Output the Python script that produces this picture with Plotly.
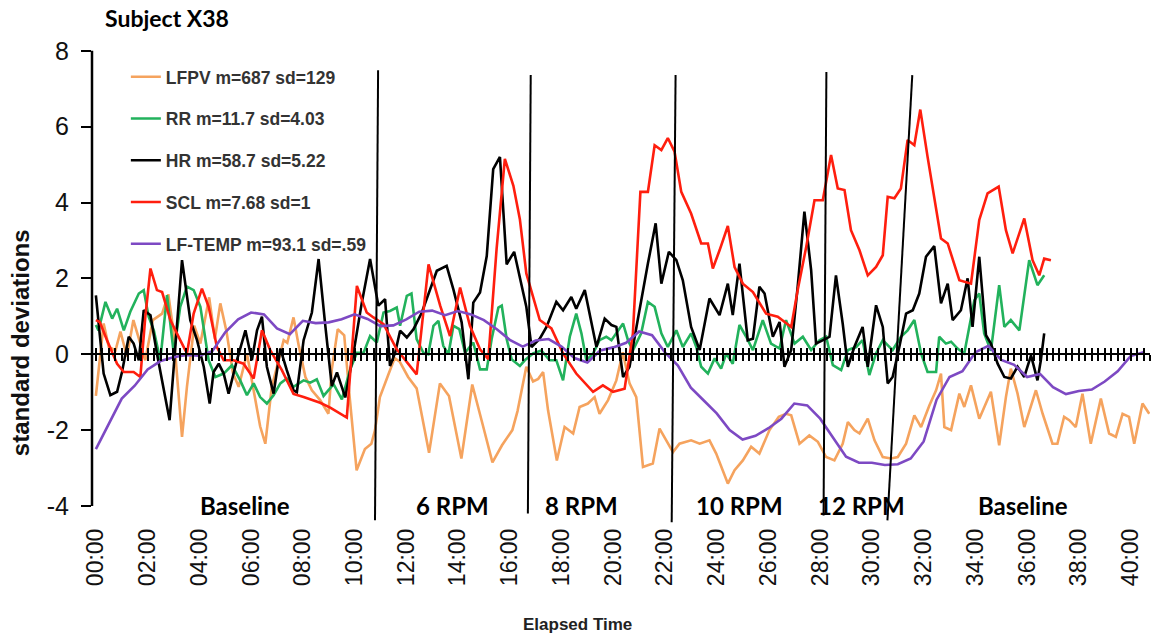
import plotly.graph_objects as go

# ---- data (minutes, standard deviations) ----
lfpv_t = [0.0, 0.3, 0.5, 0.76, 0.95, 1.2, 1.45, 1.91, 2.2, 2.56, 2.8, 3.0, 3.33, 3.52, 3.8, 4.04, 4.38, 4.6,
          4.81, 5.05, 5.3, 5.52, 5.84, 6.1, 6.35, 6.55, 6.8, 7.0, 7.26, 7.4, 7.64, 7.85, 8.1, 8.35, 8.67, 8.99,
          9.12, 9.35, 9.6, 9.82, 10.08, 10.4, 10.65, 10.79, 10.98, 11.3, 11.55, 11.75, 12.07, 12.4, 12.88, 13.3,
          13.65, 14.13, 14.55, 14.97, 15.33, 15.7, 16.1, 16.3, 16.64, 16.9, 17.1, 17.29, 17.48, 17.82, 18.12,
          18.45, 18.7, 19.02, 19.28, 19.47, 19.8, 20.12, 20.37, 20.63, 20.89, 21.15, 21.53, 21.79, 22.18, 22.31,
          22.56, 23.01, 23.34, 23.72, 23.98, 24.43, 24.69, 25.01, 25.33, 25.65, 26.04, 26.4, 26.68, 26.88, 27.2,
          27.58, 27.91, 28.23, 28.55, 28.87, 29.07, 29.32, 29.52, 29.84, 30.1, 30.42, 30.74, 31.0, 31.32, 31.64,
          31.9, 32.22, 32.48, 32.67, 32.8, 33.06, 33.38, 33.57, 33.83, 34.15, 34.6, 34.92, 35.18, 35.37, 35.63,
          35.89, 36.34, 36.6, 36.98, 37.17, 37.43, 37.63, 37.88, 38.14, 38.46, 38.85, 39.17, 39.43, 39.69, 39.94,
          40.14, 40.46, 40.72]
lfpv_v = [-1.1, 0.81, 0.19, 0.1, 0.6, -0.06, 0.9, -0.16, 0.9, 1.07, 1.58, 0.6, -2.18, -0.86, 0.75, 0.28, 1.5, 0.4,
          1.34, 0.6, -0.5, -0.86, 0.02, -1.0, -1.9, -2.36, -0.86, -0.33, 0.37, 0.3, 0.97, 0.2, -0.6, -0.95, -1.21,
          -1.57, -0.4, 0.66, 0.5, -1.2, -3.06, -2.5, -2.36, -2.0, -1.13, -0.55, -0.1, -0.2, -0.6, -0.9, -2.6, -0.77,
          -1.1, -2.75, -0.8, -1.9, -2.85, -2.4, -2.0, -1.5, -0.33, -0.72, -0.65, -0.47, -1.48, -2.8, -1.92,
          -2.09, -1.39, -1.3, -1.13, -1.57, -1.21, -0.69, 0.05, -0.77, -1.13, -2.97, -2.88, -1.96, -2.44, -2.58,
          -2.36, -2.27, -2.36, -2.27, -2.62, -3.41, -3.06, -2.8, -2.44, -2.62, -2.0, -1.65, -1.57, -1.61, -2.36,
          -2.14, -2.31, -2.71, -2.8, -2.36, -1.79, -2.0, -2.09, -1.7, -2.27, -2.71, -2.75, -2.71, -2.36, -1.61,
          -1.92, -1.35, -0.95, -0.51, -1.92, -2.0, -1.04, -1.39, -0.82, -1.7, -0.99, -2.4, -1.13, -0.38, -1.04,
          -1.92, -0.95, -1.57, -2.36, -2.36, -1.65, -1.74, -1.92, -1.04, -2.36, -1.17, -2.09, -2.18, -1.57, -1.65,
          -2.36, -1.3, -1.57]

rr_t = [0.0, 0.1, 0.37, 0.63, 0.82, 1.08, 1.33, 1.66, 1.85, 2.04, 2.24, 2.49, 2.75, 3.01, 3.26, 3.52, 3.78, 4.04,
        4.36, 4.62, 4.94, 5.26, 5.58, 5.84, 6.1, 6.35, 6.61, 6.87, 7.13, 7.38, 7.64, 8.03, 8.29, 8.54, 8.8, 9.19,
        9.51, 9.83, 10.09, 10.35, 10.6, 10.86, 11.12, 11.37, 11.63, 11.76, 12.02, 12.2, 12.4, 12.66, 12.85, 13.05,
        13.24, 13.43, 13.63, 13.82, 14.05, 14.27, 14.59, 14.85, 15.11, 15.3, 15.56, 15.69, 15.88, 16.07, 16.39,
        16.58, 16.9, 17.22, 17.54, 17.8, 18.06, 18.32, 18.57, 18.77, 18.96, 19.22, 19.47, 19.73, 19.93, 20.12,
        20.38, 20.57, 20.76, 21.08, 21.34, 21.6, 21.86, 22.11, 22.44, 22.69, 23.01, 23.21, 23.4, 23.66, 23.92,
        24.17, 24.37, 24.62, 24.88, 25.14, 25.4, 25.78, 26.1, 26.43, 26.68, 27.01, 27.33, 27.65, 27.97, 28.23,
        28.49, 28.81, 29.07, 29.39, 29.64, 29.9, 30.16, 30.42, 30.8, 31.12, 31.38, 31.64, 31.9, 32.15, 32.48,
        32.6, 32.86, 33.06, 33.31, 33.57, 33.76, 33.96, 34.15, 34.34, 34.6, 34.92, 35.12, 35.37, 35.7, 36.08,
        36.4, 36.66]
rr_v = [0.77, 0.63, 1.38, 0.94, 1.2, 0.63, 1.12, 1.6, 1.69, 0.99, 0.63, -0.16, 1.56, 0.02, 1.25, 1.78, 1.69, 1.25,
        -0.16, -0.6, -0.51, -0.29, -0.69, -1.08, -0.77, -1.13, -1.3, -1.08, -0.77, -0.64, -0.86, -0.69, -0.75,
        -0.66, -1.1, -0.79, -1.19, -0.4, 0.04, 0.04, 0.48, 0.31, 1.1, 1.14, 1.23, 0.75, 1.54, 1.6, 0.4, 0.04, 0.0,
        0.75, 0.88, 0.22, 0.0, 0.75, 0.66, 0.04, 0.31, -0.4, -0.4, 0.4, 1.23, 1.28, 0.4, -0.13, -0.31, -0.16,
        0.02, 0.1, -0.16, -0.16, -0.69, 0.46, 1.07, 0.55, -0.16, 0.02, 0.37, 0.46, 0.37, 0.55, 0.81, 0.37, 0.1,
        0.55, 1.38, 1.25, 0.55, 0.19, 0.63, 0.19, 0.55, 0.19, -0.33, -0.51, -0.11, -0.38, 0.02, -0.25, 0.77,
        0.46, 0.11, 0.9, 0.28, 0.15, 0.9, 0.28, 0.46, 0.11, 0.37, 0.46, -0.29, -0.42, 0.11, 0.19, 0.37, -0.55,
        0.02, 0.37, 0.11, 0.46, 0.63, 0.9, 0.02, -0.47, -0.47, 0.46, 0.28, 0.33, 0.15, 0.02, 0.72, 1.42, 1.6,
        0.55, 0.09, 1.82, 0.72, 0.9, 0.63, 2.48, 1.82, 2.08]

hr_t = [0.0, 0.3, 0.56, 0.82, 1.01, 1.27, 1.46, 1.66, 1.85, 2.11, 2.36, 2.56, 2.85, 3.07, 3.33, 3.65, 3.91, 4.17,
        4.4, 4.55, 4.75, 4.94, 5.13, 5.45, 5.78, 6.03, 6.23, 6.42, 6.61, 6.87, 7.13, 7.38, 7.64, 7.77, 8.03, 8.35,
        8.61, 8.87, 9.12, 9.32, 9.64, 9.96, 10.28, 10.6, 10.92, 11.18, 11.37, 11.57, 11.76, 12.02, 12.28, 12.6,
        12.92, 13.18, 13.56, 13.82, 14.14, 14.4, 14.59, 14.85, 15.11, 15.36, 15.62, 15.88, 16.17, 16.64, 16.84,
        17.16, 17.42, 17.8, 18.06, 18.38, 18.57, 18.9, 19.35, 19.67, 19.93, 20.12, 20.38, 20.63, 20.83, 21.08,
        21.34, 21.64, 21.86, 22.15, 22.44, 22.69, 23.01, 23.34, 23.72, 24.11, 24.43, 24.62, 24.88, 25.2, 25.4,
        25.65, 25.85, 26.17, 26.43, 26.62, 26.88, 27.13, 27.39, 27.65, 27.84, 28.23, 28.36, 28.61, 28.87, 29.07,
        29.32, 29.64, 29.84, 30.16, 30.42, 30.61, 30.8, 31.06, 31.32, 31.58, 31.83, 32.09, 32.41, 32.67, 32.93,
        33.12, 33.44, 33.7, 33.89, 34.15, 34.41, 34.6, 34.86, 35.12, 35.37, 35.63, 35.89, 36.15, 36.4, 36.53,
        36.66]
hr_v = [1.55, -0.51, -1.08, -0.99, -0.47, 0.46, 0.28, -0.16, 1.16, 1.03, 0.02, -0.69, -1.74, 0.19, 2.48, 0.9,
        0.37, -0.33, -1.3, -0.47, -0.25, -0.51, -1.04, -0.16, 0.63, -0.16, 0.63, 0.99, -0.33, -1.04, 0.15, -0.42,
        -0.95, -1.0, 0.37, 1.1, 2.51, 0.75, -0.84, -0.48, -1.14, 0.04, 1.36, 2.51, 1.28, 1.45, -0.31, 0.04, 0.62,
        0.44, 0.66, 1.1, 1.71, 2.2, 2.33, 1.71, 0.84, -0.66, 1.36, 1.63, 2.59, 4.88, 5.2, 2.37, 2.7, 1.25, 0.19,
        0.41, 0.72, 1.38, 1.16, 1.51, 1.2, 1.69, 0.19, 0.94, 0.77, 0.72, -0.6, -0.33, 0.46, 1.42, 2.39, 3.45,
        1.86, 2.7, 2.48, 1.95, 0.72, 0.11, 1.47, 1.03, 1.86, 1.03, 2.39, 0.37, 0.41, 1.78, 1.6, 0.46, 0.85,
        -0.33, 0.11, 1.78, 3.76, 2.22, 0.28, 0.41, 0.46, 2.08, 0.81, -0.33, 0.19, 0.72, -0.33, 1.29, 0.72,
        -0.77, -0.6, 0.19, 1.07, 1.16, 1.6, 2.57, 2.85, 1.34, 1.86, 0.9, 1.16, 2.0, 0.72, 2.57, 0.5, 0.28,
        -0.25, -0.6, -0.64, -0.33, -0.6, -0.03, -0.69, -0.16, 0.55]

scl_t = [0.0, 0.15, 0.43, 0.82, 1.08, 1.46, 1.72, 1.91, 2.11, 2.36, 2.56, 2.88, 3.26, 3.52, 3.78, 4.1, 4.36, 4.68,
         4.94, 5.32, 5.71, 6.1, 6.42, 6.74, 7.19, 7.64, 8.03, 8.67, 9.06, 9.57, 9.7, 10.09, 10.47, 10.73, 11.12,
         11.63, 12.4, 12.86, 13.31, 13.69, 14.08, 14.46, 14.85, 15.17, 15.49, 15.81, 16.14, 16.39, 16.64, 17.16,
         17.61, 18.06, 18.57, 19.22, 19.6, 19.99, 20.44, 20.76, 21.05, 21.34, 21.6, 21.86, 22.11, 22.37, 22.63,
         23.01, 23.4, 23.66, 23.85, 24.11, 24.43, 24.69, 25.01, 25.4, 25.91, 26.36, 26.88, 27.13, 27.46, 27.78,
         28.1, 28.42, 28.68, 28.94, 29.19, 29.52, 29.84, 30.16, 30.42, 30.61, 30.87, 31.12, 31.38, 31.64, 31.87,
         32.15, 32.67, 32.93, 33.38, 33.83, 34.15, 34.47, 34.9, 35.18, 35.44, 35.89, 36.21, 36.47, 36.66, 36.92]
scl_v = [0.9, 0.85, 0.37, -0.25, -0.47, -0.47, -0.6, 0.98, 2.26, 1.69, 1.64, 0.9, 0.37, 0.02, 1.07, 1.73, 1.25,
         0.19, -0.16, -0.16, -0.25, -0.64, 0.63, 0.11, -0.42, -1.05, -1.13, -1.28, -1.41, -1.63, -1.67, 1.8, 1.1,
         0.97, 0.79, 0.13, -0.53, 2.37, 1.28, 0.48, 1.76, 0.75, 0.13, -0.13, 2.77, 5.15, 4.44, 3.56, 2.13, 0.9,
         0.68, 0.02, -0.51, -0.99, -0.82, -0.99, -0.91, 0.55, 4.28, 4.28, 5.51, 5.38, 5.7, 5.34, 4.28, 3.71, 2.92,
         2.92, 2.26, 2.74, 3.38, 2.3, 1.86, 1.64, 1.07, 0.99, 0.72, 1.69, 2.83, 4.06, 4.06, 5.25, 4.37, 4.33,
         3.27, 2.74, 2.08, 2.3, 2.61, 4.15, 4.11, 4.37, 5.65, 5.51, 6.45, 5.21, 3.05, 2.92, 1.95, 1.86, 3.54,
         4.24, 4.42, 3.27, 2.66, 3.58, 2.48, 2.08, 2.52, 2.48]

temp_v = [-2.5, -1.85, -1.17, -0.83, -0.4, -0.18, -0.08, -0.02, -0.04, 0.08, 0.58, 0.92, 1.1, 1.05, 0.68, 0.53,
          0.88, 0.82, 0.84, 0.92, 1.05, 0.93, 0.74, 0.76, 0.92, 1.12, 1.15, 1.03, 1.14, 1.05, 0.9, 0.66, 0.38,
          0.2, 0.36, 0.4, 0.2, -0.1, -0.22, 0.1, 0.18, 0.3, 0.6, 0.5, 0.05, -0.3, -0.88, -1.22, -1.56, -2.0,
          -2.25, -2.15, -1.95, -1.7, -1.3, -1.35, -1.7, -2.2, -2.7, -2.86, -2.86, -2.92, -2.9, -2.75, -2.3, -1.2,
          -0.6, -0.45, 0.05, 0.22, -0.15, -0.28, -0.6, -0.52, -0.87, -1.05, -0.97, -0.93, -0.72, -0.45, -0.05,
          0.05]
temp_t = [i * 0.5 for i in range(len(temp_v))]

series_names = ["LFPV m=687 sd=129", "RR m=11.7 sd=4.03", "HR m=58.7 sd=5.22",
                "SCL m=7.68 sd=1", "LF-TEMP m=93.1 sd=.59"]

# session boundaries (slanted marker lines) and labels
phase_top_t = [10.91, 16.81, 22.41, 28.24, 31.56]
phase_top_y = [7.49, 7.36, 7.36, 7.44, 7.36]
phase_bot_t = [10.79, 16.70, 22.26, 28.13, 30.60]
phase_bot_y = [-4.38, -4.2, -4.43, -4.25, -4.38]
phase_labels = ["Baseline", "6 RPM", "8 RPM", "10 RPM", "12 RPM", "Baseline"]
phase_label_t = [5.78, 13.77, 18.78, 24.88, 29.6, 35.85]

xtick_vals = list(range(0, 41, 2))
xtick_text = [f"{m:02d}:00" for m in xtick_vals]
ytick_vals = list(range(-4, 9, 2))
ytick_text = [str(v) for v in ytick_vals]  # plain hyphen minus like the original

# ---- figure ----
colors = ["#F5A35E", "#22B25C", "#000000", "#FF1E0E", "#7D49C3"]
fig = go.Figure()
for name, t, v, c in zip(series_names, [lfpv_t, rr_t, hr_t, scl_t, temp_t],
                         [lfpv_v, rr_v, hr_v, scl_v, temp_v], colors):
    fig.add_trace(go.Scatter(x=t, y=v, mode="lines", name=name, legendgroup=name,
                             line=dict(color=c, width=2.6)))

# empty traces so the two overlay axes (cross ticks on the zero line) get drawn
fig.add_trace(go.Scatter(x=[], y=[], xaxis="x2", showlegend=False, hoverinfo="skip"))
fig.add_trace(go.Scatter(x=[], y=[], xaxis="x3", showlegend=False, hoverinfo="skip"))

x_range = [-0.15, 40.75]
y_range = [-4.45, 8.1]
zero_pos = (0 - y_range[0]) / (y_range[1] - y_range[0])

for tt, ty, bt, by in zip(phase_top_t, phase_top_y, phase_bot_t, phase_bot_y):
    fig.add_shape(type="line", xref="x", yref="y", x0=tt, y0=ty, x1=bt, y1=by,
                  line=dict(color="black", width=2))

# y axis line from -4 to 8
fig.add_shape(type="line", xref="paper", yref="y", x0=0, x1=0, y0=-4, y1=8,
              line=dict(color="black", width=2.5))

for lab, t in zip(phase_labels, phase_label_t):
    fig.add_annotation(x=t, y=-3.98, xref="x", yref="y", text=lab, showarrow=False,
                       yanchor="middle",
                       font=dict(family="Lato", size=24, color="black", weight="bold"))

fig.add_annotation(x=0.459, y=-0.214, xref="paper", yref="paper", text="Elapsed Time",
                   showarrow=False, xanchor="center", yanchor="middle",
                   font=dict(family="Liberation Sans", size=17, color="#222", weight="bold"))
fig.add_annotation(x=-0.068, y=0.378, xref="paper", yref="paper", text="standard deviations",
                   textangle=-90, showarrow=False, xanchor="center", yanchor="middle",
                   font=dict(family="Liberation Sans", size=24, color="#111", weight="bold"))

tick_common = dict(range=x_range, tick0=0, dtick=0.25, ticklen=6, tickwidth=2, tickcolor="black",
                   showticklabels=False, showgrid=False, zeroline=False)

fig.update_layout(
    width=1152, height=642,
    margin=dict(l=92, r=2, t=47, b=119),
    plot_bgcolor="white", paper_bgcolor="white",
    title=dict(text="Subject X38", x=105 / 1152, xanchor="left", xref="container",
               y=1 - 19 / 642, yanchor="middle",
               font=dict(family="Lato", size=23, color="black", weight="bold")),
    xaxis=dict(range=x_range, tickvals=xtick_vals, ticktext=xtick_text, tickangle=-90,
               showgrid=False, zeroline=False, showline=False, ticks="", automargin=False,
               tickfont=dict(family="Liberation Sans", size=23, color="#111")),
    xaxis2=dict(overlaying="x", anchor="free", position=zero_pos, ticks="outside",
                showline=True, linecolor="black", linewidth=2, **tick_common),
    xaxis3=dict(overlaying="x", anchor="free", position=zero_pos, ticks="inside",
                showline=False, **tick_common),
    yaxis=dict(range=y_range, tickvals=ytick_vals, ticktext=ytick_text, ticks="outside", ticklen=10,
               tickwidth=2, tickcolor="black", showline=False, showgrid=False, zeroline=False,
               ticklabelstandoff=7, automargin=False,
               tickfont=dict(family="Liberation Sans", size=25, color="#111")),
    legend=dict(x=0.032, y=0.975, xanchor="left", yanchor="top", bgcolor="rgba(0,0,0,0)",
                tracegroupgap=16,
                font=dict(family="Liberation Sans", size=17.5, color="#333", weight="bold")),
    showlegend=True,
)

# drop the default page margin so the figure sits at the window's top-left corner
fig.write_html("out.html", config={"displayModeBar": False},
               post_script="document.body.style.margin='0';document.body.style.overflow='hidden';")
